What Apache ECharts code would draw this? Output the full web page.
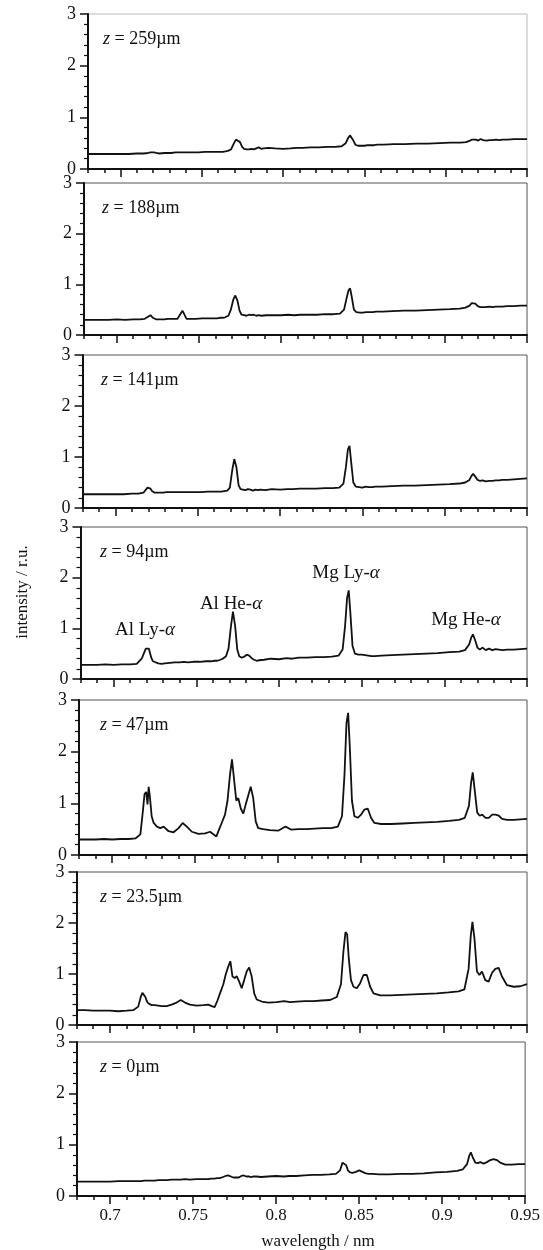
<!DOCTYPE html>
<html>
<head>
<meta charset="utf-8">
<script src="https://cdn.jsdelivr.net/npm/echarts/dist/echarts.min.js"></script>
<style>
html,body{margin:0;padding:0;background:#fff;}
#chart{width:543px;height:1250px;}
</style>
</head>
<body>
<div id="chart"></div>
<script>
// ---------- data ----------
const wavelength = [0.680,0.685,0.690,0.695,0.700,0.705,0.710,0.714,0.717,0.7185,
 0.7195,0.7205,0.7213,0.7220,0.7228,0.7238,0.725,0.727,0.729,0.731,
 0.734,0.737,0.740,0.7425,0.745,0.748,0.752,0.756,0.759,0.761,
 0.7628,0.7645,0.766,0.768,0.7695,0.771,0.7722,0.7735,0.7748,0.776,
 0.7775,0.779,0.7805,0.782,0.7835,0.785,0.7865,0.788,0.791,0.795,
 0.800,0.8045,0.808,0.812,0.817,0.822,0.827,0.832,0.836,0.8385,
 0.8400,0.8412,0.8422,0.8432,0.8445,0.846,0.848,0.850,0.852,0.854,
 0.856,0.858,0.862,0.868,0.875,0.882,0.889,0.896,0.903,0.909,
 0.9125,0.915,0.9163,0.9173,0.9185,0.920,0.9215,0.923,0.925,0.927,
 0.929,0.931,0.933,0.935,0.938,0.942,0.946,0.950];

const z259 = [0.29,0.29,0.29,0.29,0.29,0.29,0.30,0.30,0.31,0.32,
 0.33,0.32,0.31,0.31,0.31,0.30,0.31,0.31,0.31,0.31,
 0.32,0.32,0.32,0.32,0.32,0.32,0.33,0.33,0.33,0.33,
 0.33,0.34,0.35,0.38,0.48,0.57,0.58,0.52,0.43,0.39,
 0.38,0.38,0.39,0.38,0.40,0.42,0.39,0.40,0.41,0.40,
 0.39,0.40,0.41,0.41,0.42,0.42,0.43,0.43,0.44,0.50,
 0.60,0.65,0.62,0.55,0.47,0.45,0.45,0.45,0.46,0.46,
 0.46,0.47,0.47,0.48,0.48,0.49,0.49,0.50,0.51,0.51,
 0.52,0.55,0.57,0.56,0.57,0.55,0.58,0.56,0.55,0.56,
 0.56,0.57,0.56,0.57,0.57,0.58,0.58,0.58];

const z188 = [0.30,0.30,0.30,0.30,0.31,0.30,0.31,0.31,0.32,0.35,
 0.38,0.39,0.37,0.34,0.32,0.31,0.31,0.31,0.31,0.32,
 0.32,0.32,0.48,0.32,0.32,0.32,0.33,0.33,0.33,0.33,
 0.34,0.34,0.35,0.38,0.50,0.70,0.78,0.68,0.48,0.40,
 0.39,0.38,0.40,0.39,0.40,0.38,0.39,0.38,0.39,0.39,
 0.39,0.40,0.39,0.40,0.40,0.40,0.41,0.41,0.42,0.50,
 0.72,0.88,0.92,0.75,0.50,0.45,0.44,0.44,0.45,0.45,
 0.45,0.46,0.46,0.47,0.48,0.48,0.49,0.50,0.51,0.52,
 0.54,0.58,0.63,0.65,0.62,0.57,0.55,0.55,0.55,0.56,
 0.55,0.56,0.56,0.56,0.57,0.57,0.58,0.58];

const z141 = [0.27,0.27,0.27,0.27,0.27,0.27,0.28,0.28,0.30,0.36,
 0.40,0.41,0.38,0.34,0.31,0.30,0.30,0.30,0.30,0.31,
 0.31,0.31,0.31,0.31,0.31,0.31,0.31,0.32,0.32,0.32,
 0.32,0.32,0.33,0.34,0.40,0.75,0.96,0.80,0.45,0.37,
 0.36,0.35,0.37,0.36,0.34,0.36,0.35,0.36,0.35,0.37,
 0.36,0.37,0.37,0.38,0.38,0.38,0.39,0.39,0.40,0.48,
 0.80,1.15,1.22,0.90,0.50,0.42,0.41,0.40,0.42,0.41,
 0.41,0.42,0.42,0.43,0.44,0.44,0.45,0.46,0.47,0.48,
 0.50,0.55,0.63,0.67,0.62,0.55,0.53,0.54,0.52,0.53,
 0.53,0.54,0.54,0.55,0.55,0.56,0.57,0.58];

const z94 = [0.28,0.28,0.28,0.29,0.28,0.29,0.29,0.30,0.40,0.52,
 0.60,0.63,0.60,0.52,0.42,0.35,0.32,0.31,0.30,0.31,
 0.32,0.33,0.33,0.34,0.33,0.34,0.34,0.35,0.35,0.36,
 0.36,0.38,0.40,0.45,0.60,1.05,1.33,1.05,0.58,0.45,
 0.42,0.44,0.48,0.46,0.41,0.38,0.36,0.37,0.38,0.40,
 0.39,0.41,0.40,0.42,0.42,0.43,0.43,0.44,0.46,0.58,
 1.05,1.60,1.75,1.30,0.65,0.50,0.48,0.48,0.47,0.46,
 0.45,0.45,0.46,0.47,0.48,0.49,0.50,0.51,0.53,0.54,
 0.57,0.68,0.82,0.88,0.78,0.62,0.58,0.62,0.57,0.60,
 0.57,0.59,0.58,0.57,0.58,0.58,0.59,0.60];

const z47 = [0.30,0.30,0.30,0.31,0.30,0.31,0.31,0.32,0.40,0.85,
 1.18,1.22,0.98,1.32,1.10,0.75,0.62,0.55,0.52,0.55,
 0.46,0.44,0.52,0.62,0.55,0.45,0.41,0.42,0.45,0.40,
 0.36,0.50,0.62,0.78,1.05,1.55,1.85,1.45,1.05,1.10,
 0.90,0.80,0.98,1.15,1.32,1.10,0.65,0.52,0.50,0.48,
 0.47,0.55,0.49,0.50,0.50,0.51,0.52,0.52,0.55,0.75,
 1.55,2.55,2.75,2.10,1.05,0.75,0.72,0.78,0.88,0.90,
 0.72,0.62,0.60,0.60,0.61,0.62,0.63,0.64,0.66,0.68,
 0.72,0.95,1.40,1.60,1.25,0.82,0.76,0.78,0.72,0.72,
 0.78,0.78,0.76,0.70,0.68,0.68,0.69,0.70];

const z23_5 = [0.29,0.29,0.28,0.28,0.28,0.27,0.28,0.29,0.36,0.55,
 0.63,0.62,0.55,0.48,0.43,0.40,0.39,0.39,0.38,0.37,
 0.37,0.40,0.44,0.49,0.44,0.40,0.38,0.39,0.40,0.37,
 0.35,0.48,0.62,0.80,1.00,1.15,1.25,0.95,0.92,0.96,
 0.85,0.72,0.88,1.05,1.13,0.95,0.62,0.50,0.46,0.44,
 0.45,0.47,0.45,0.46,0.47,0.47,0.48,0.49,0.55,0.80,
 1.45,1.82,1.78,1.30,0.88,0.75,0.72,0.82,0.98,0.98,
 0.75,0.62,0.58,0.58,0.59,0.60,0.61,0.62,0.64,0.66,
 0.70,1.10,1.75,2.02,1.70,1.05,0.98,1.05,0.88,0.85,
 1.02,1.10,1.12,0.95,0.78,0.75,0.76,0.80];

const z0 = [0.28,0.28,0.28,0.28,0.28,0.29,0.29,0.29,0.29,0.29,
 0.29,0.30,0.29,0.30,0.30,0.30,0.30,0.30,0.31,0.31,
 0.31,0.32,0.32,0.32,0.33,0.32,0.33,0.33,0.33,0.34,
 0.34,0.35,0.35,0.37,0.39,0.40,0.38,0.37,0.36,0.37,
 0.36,0.39,0.40,0.38,0.38,0.37,0.38,0.38,0.37,0.38,
 0.39,0.38,0.39,0.39,0.40,0.41,0.41,0.42,0.43,0.50,
 0.65,0.68,0.60,0.50,0.46,0.45,0.47,0.50,0.47,0.44,
 0.43,0.43,0.42,0.42,0.43,0.43,0.44,0.46,0.47,0.49,
 0.52,0.62,0.78,0.85,0.75,0.65,0.64,0.66,0.63,0.66,
 0.70,0.72,0.70,0.65,0.61,0.61,0.62,0.62];

const panelDepths = ['259', '188', '141', '94', '47', '23.5', '0'];
const panelSeries = [z259, z188, z141, z94, z47, z23_5, z0];
const xTickValues = [0.7, 0.75, 0.8, 0.85, 0.9, 0.95];
const peakNames = ['Al Ly-α', 'Al He-α', 'Mg Ly-α', 'Mg He-α'];

// ---------- layout ----------
const layout = [
  {top: 14,   h: 155, left: 88},
  {top: 183,  h: 152, left: 84},
  {top: 355,  h: 153, left: 82.5},
  {top: 527,  h: 152, left: 80.5},
  {top: 700,  h: 155, left: 79},
  {top: 872,  h: 153, left: 76.5},
  {top: 1042, h: 154, left: 77}
];
const RIGHT_EDGE = 527;
const peakLabelPos = [[145, 630], [231, 604], [346, 573], [466, 620]];
const FONT = '"Liberation Serif", "DejaVu Serif", serif';
const INK = '#111';

const grids = [], xAxes = [], yAxes = [], series = [], graphics = [];
layout.forEach((p, i) => {
  const last = i === layout.length - 1;
  grids.push({left: p.left, top: p.top, width: RIGHT_EDGE - p.left, height: p.h,
    show: true, borderColor: i === 0 ? '#bbb' : '#555', borderWidth: 1, backgroundColor: 'transparent'});
  // main x axis: 0.01 ticks (short)
  xAxes.push({type: 'value', gridIndex: i, position: 'bottom', min: 0.68, max: 0.95, interval: 0.01,
    axisLine: {show: true, onZero: false, lineStyle: {color: INK, width: 2}},
    axisTick: {show: true, length: 4, lineStyle: {color: INK, width: 1.5}},
    axisLabel: {show: last, customValues: xTickValues, margin: 11, color: INK,
      fontFamily: FONT, fontSize: 17},
    splitLine: {show: false}});
  // major ticks at 0.05
  xAxes.push({type: 'value', gridIndex: i, position: 'bottom', min: 0.68, max: 0.95,
    axisLine: {show: false},
    axisTick: {show: true, length: 8, customValues: xTickValues, lineStyle: {color: INK, width: 1.5}},
    axisLabel: {show: false}, splitLine: {show: false}});
  yAxes.push({type: 'value', gridIndex: i, min: 0, max: 3, interval: 1,
    axisLine: {show: true, onZero: false, lineStyle: {color: INK, width: 2}},
    axisTick: {show: true, length: 8, lineStyle: {color: INK, width: 1.5}},
    minorTick: {show: true, splitNumber: 5, length: 4, lineStyle: {color: INK, width: 1.2}},
    axisLabel: {color: INK, fontFamily: FONT, fontSize: 18, margin: 12},
    splitLine: {show: false}, minorSplitLine: {show: false}});
  series.push({type: 'line', xAxisIndex: 2 * i, yAxisIndex: i, showSymbol: false, smooth: false,
    lineStyle: {color: INK, width: 1.8}, silent: true,
    data: wavelength.map((w, k) => [w, panelSeries[i][k]])});
  graphics.push({type: 'text', left: 100 + (i < 3 ? 3 - i : 0), top: p.top + 16,
    style: {text: '{i|z} = ' + panelDepths[i] + 'µm', fill: INK, fontFamily: FONT, fontSize: 18,
      rich: {i: {fontStyle: 'italic', fontFamily: FONT, fontSize: 18, fill: INK}}}});
});

peakNames.forEach((name, j) => {
  const parts = name.split('α');
  graphics.push({type: 'text', x: peakLabelPos[j][0], y: peakLabelPos[j][1],
    style: {text: parts[0] + '{a|α}', fill: INK, fontFamily: FONT, fontSize: 19,
      align: 'center', verticalAlign: 'middle',
      rich: {a: {fontStyle: 'italic', fontFamily: FONT, fontSize: 19, fill: INK}}}});
});

graphics.push({type: 'text', x: 23, y: 592, rotation: Math.PI / 2,
  style: {text: 'intensity / r.u.', fill: INK, fontFamily: FONT, fontSize: 17,
    align: 'center', verticalAlign: 'middle'}});
graphics.push({type: 'text', x: 318, y: 1242,
  style: {text: 'wavelength / nm', fill: INK, fontFamily: FONT, fontSize: 17,
    align: 'center', verticalAlign: 'middle'}});

const chart = echarts.init(document.getElementById('chart'), null, {renderer: 'canvas'});
chart.setOption({
  animation: false,
  backgroundColor: '#fff',
  grid: grids, xAxis: xAxes, yAxis: yAxes, series: series, graphic: graphics
});
</script>
</body>
</html>
